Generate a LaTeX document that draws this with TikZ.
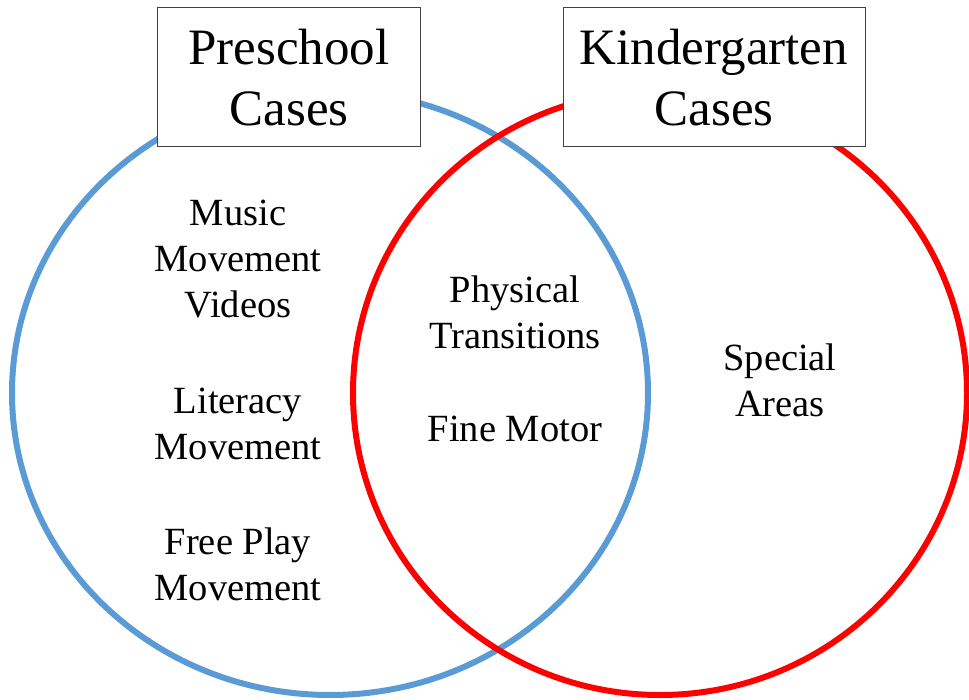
\documentclass[tikz,border=0pt]{standalone}
\usepackage{fontspec}
\setmainfont{Liberation Serif}
\usepackage{tikz}

\definecolor{preblue}{RGB}{91,155,213}
\definecolor{kinred}{RGB}{255,0,0}

\tikzset{
    casebox/.style={rectangle, draw=black!75, fill=white, line width=1pt,
        minimum width=263pt, minimum height=139pt, inner sep=0pt,
        align=center, font=\fontsize{51}{61}\selectfont},
    item/.style={align=center, font=\fontsize{38.5}{46}\selectfont},
}

\begin{document}
\begin{tikzpicture}[x=1pt, y=-1pt]
    \useasboundingbox (0,0) rectangle (969,700);

    \draw[preblue, line width=6pt] (330,393) ellipse [x radius=318pt, y radius=302pt];
    \draw[kinred, line width=6pt] (660,393) ellipse [x radius=307pt, y radius=302pt];

    \node at (289,77.5) [casebox] (Pre) {Preschool\\Cases};
    \node at (714,77.5) [casebox, minimum width=302pt] (Kin) {Kindergarten\\Cases};

    \node at (238,259) [item] (Music) {Music\\Movement\\Videos};
    \node at (238,424) [item] (Lit) {Literacy\\Movement};
    \node at (238,564) [item] (Free) {Free Play\\Movement};
    \node at (515,312) [item] (Phys) {Physical\\Transitions};
    \node at (515,429) [item] (Fine) {Fine Motor};
    \node at (780,380) [item] (Spec) {Special\\Areas};
\end{tikzpicture}
\end{document}
